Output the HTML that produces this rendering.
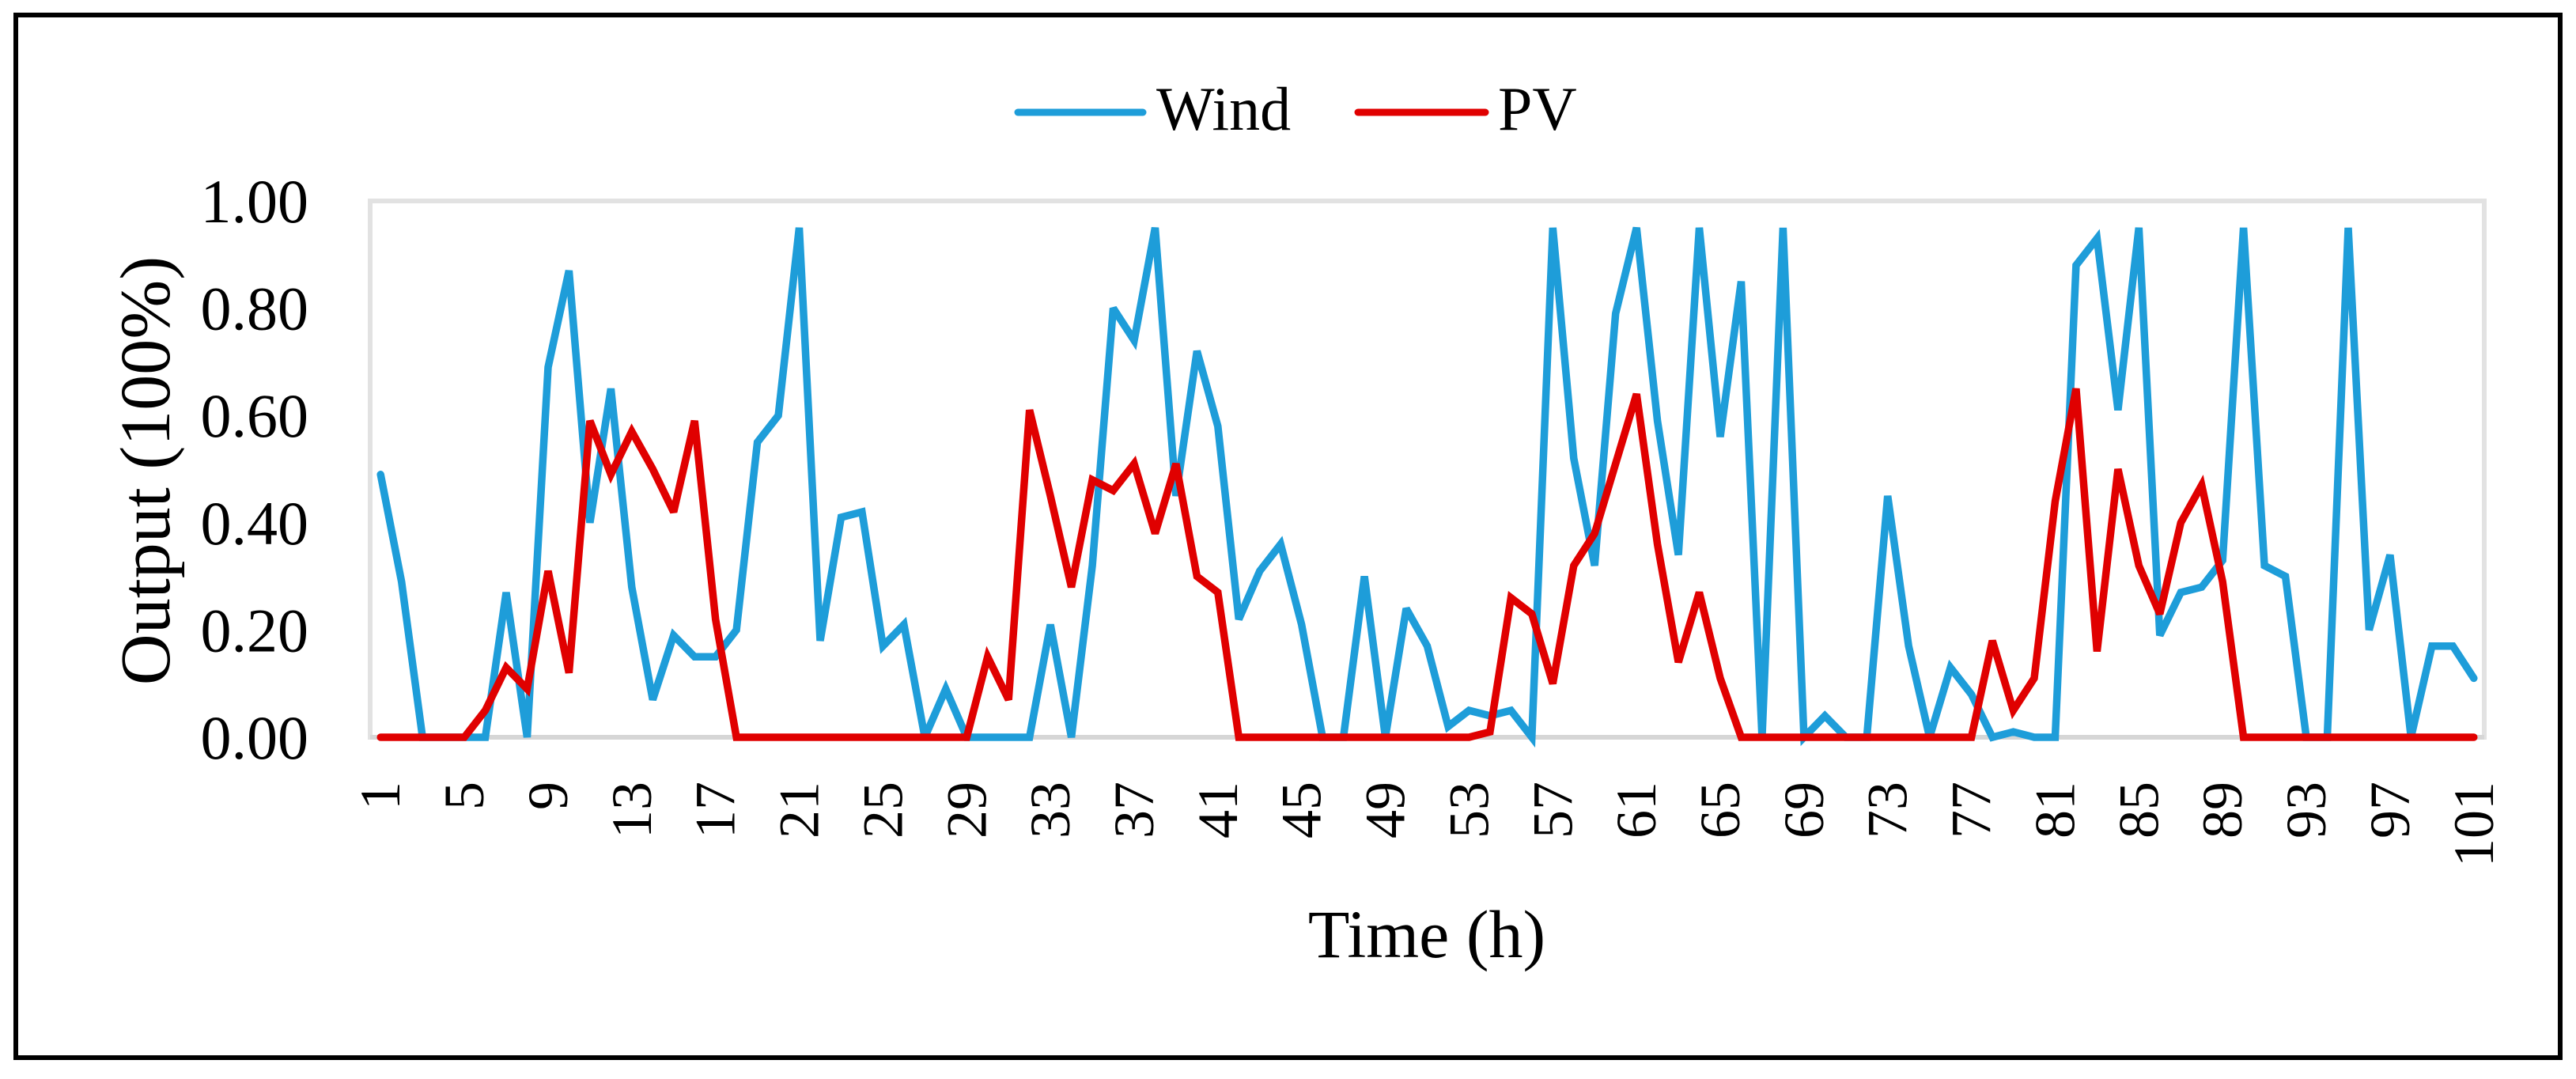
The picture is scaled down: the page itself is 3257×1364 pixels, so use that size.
<!DOCTYPE html>
<html><head><meta charset="utf-8">
<style>
html,body{margin:0;padding:0;background:#fff;}
svg{display:block;}
text{font-family:"Liberation Serif",serif;fill:#000;}
</style></head>
<body>
<svg id="chart" width="3257" height="1364" viewBox="0 0 3257 1364" xmlns="http://www.w3.org/2000/svg">
<rect x="20" y="19" width="3217" height="1318" fill="#fff" stroke="#000" stroke-width="6"/>
<g>
  <line x1="1287" y1="142" x2="1445" y2="142" stroke="#1e9dd9" stroke-width="9" stroke-linecap="round"/>
  <text x="1462" y="164" font-size="78">Wind</text>
  <line x1="1717" y1="142" x2="1878" y2="142" stroke="#e00000" stroke-width="9" stroke-linecap="round"/>
  <text x="1894" y="164" font-size="78">PV</text>
</g>
<rect x="468" y="254" width="2673" height="678" fill="none" stroke="#e2e2e2" stroke-width="6"/>
<line x1="468" y1="932" x2="3141" y2="932" stroke="#d6d6d6" stroke-width="6"/>
<g id="yticks"></g>
<g id="xticks"></g>
<g id="series"></g>
<text transform="translate(214,595) rotate(-90)" text-anchor="middle" font-size="90">Output (100%)</text>
<text x="1804" y="1210" text-anchor="middle" font-size="86">Time (h)</text>
</svg>
<script>
const wind = [0.49,0.29,0,0,0,0,0.27,0,0.69,0.87,0.40,0.65,0.28,0.07,0.19,0.15,0.15,0.20,0.55,0.60,
0.95,0.18,0.41,0.42,0.17,0.21,0,0.09,0,0,0,0,0.21,0,0.32,0.80,0.74,0.95,0.45,0.72,
0.58,0.22,0.31,0.36,0.21,0,0,0.30,0,0.24,0.17,0.02,0.05,0.04,0.05,0,0.95,0.52,0.32,0.79,
0.95,0.59,0.34,0.95,0.56,0.85,0,0.95,0,0.04,0,0,0.45,0.17,0,0.13,0.08,0,0.01,0,
0,0.88,0.93,0.61,0.95,0.19,0.27,0.28,0.33,0.95,0.32,0.30,0,0,0.95,0.20,0.34,0,0.17,0.17,0.11];
const pv = [0,0,0,0,0,0.05,0.13,0.09,0.31,0.12,0.59,0.49,0.57,0.50,0.42,0.59,0.22,0,0,0,
0,0,0,0,0,0,0,0,0,0.15,0.07,0.61,0.45,0.28,0.48,0.46,0.51,0.38,0.51,0.30,
0.27,0,0,0,0,0,0,0,0,0,0,0,0,0.01,0.26,0.23,0.10,0.32,0.38,0.51,
0.64,0.36,0.14,0.27,0.11,0,0,0,0,0,0,0,0,0,0,0,0,0.18,0.05,0.11,
0.44,0.65,0.16,0.50,0.32,0.23,0.40,0.47,0.29,0,0,0,0,0,0,0,0,0,0,0,0];
const yTickValues = [0,0.2,0.4,0.6,0.8,1.0];
const yTickLabels = ["0.00","0.20","0.40","0.60","0.80","1.00"];
const xTickStep = 4;

const NS = "http://www.w3.org/2000/svg";
const plotL = 468, plotR = 3141, y0 = 932, y1 = 254;
const n = wind.length;
const band = (plotR - plotL) / n;
function xPos(i){ return plotL + band*(i+0.5); }
function yPos(v){ return y0 - (y0 - y1)*v; }

const yt = document.getElementById('yticks');
yTickValues.forEach((v,k)=>{
  const t = document.createElementNS(NS,'text');
  t.setAttribute('x', 390);
  t.setAttribute('y', yPos(v) + 27);
  t.setAttribute('text-anchor','end');
  t.setAttribute('font-size','78');
  t.textContent = yTickLabels[k];
  
  
  yt.appendChild(t);
});

const xt = document.getElementById('xticks');
for (let i = 0; i < n; i += xTickStep){
  const t = document.createElementNS(NS,'text');
  const x = xPos(i) + 24;
  t.setAttribute('transform', 'translate(' + x + ',988) rotate(-90)');
  t.setAttribute('text-anchor','end');
  t.setAttribute('font-size','72');
  t.textContent = String(i+1);
  
  
  xt.appendChild(t);
}

function drawSeries(vals, color, name){
  const p = document.createElementNS(NS,'polyline');
  p.setAttribute('points', vals.map((v,i)=>xPos(i).toFixed(1)+','+yPos(v).toFixed(1)).join(' '));
  p.setAttribute('fill','none');
  p.setAttribute('stroke', color);
  p.setAttribute('stroke-width','9.5');
  p.setAttribute('stroke-linejoin','miter');
  p.setAttribute('stroke-miterlimit','3');
  p.setAttribute('stroke-linecap','round');
  
  
  document.getElementById('series').appendChild(p);
}
drawSeries(wind, '#1e9dd9', 'wind-line');
drawSeries(pv, '#e00000', 'pv-line');
</script>
</body></html>
